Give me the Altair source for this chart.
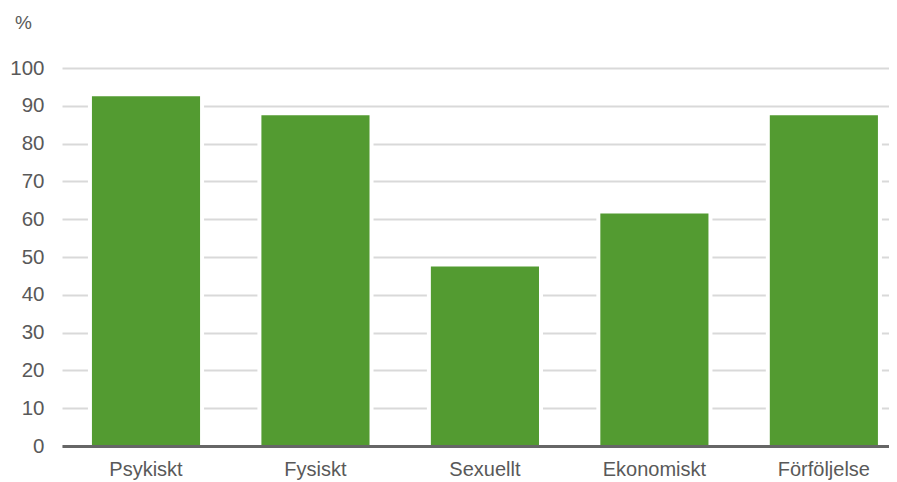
import altair as alt
import pandas as pd

categories = ["Psykiskt", "Fysiskt", "Sexuellt", "Ekonomiskt", "Förföljelse"]
values = [92.5, 87.5, 47.5, 61.5, 87.5]
y_ticks = [0, 10, 20, 30, 40, 50, 60, 70, 80, 90, 100]

df = pd.DataFrame({"cat": categories, "val": values})

FONT = "Liberation Sans"
TXT = "#595959"

xscale = alt.Scale(paddingInner=0.362, paddingOuter=0.121, align=0.73)

x_enc = alt.X(
    "cat:N",
    sort=categories,
    scale=xscale,
    axis=alt.Axis(
        title=None,
        labelAngle=0,
        labelFont=FONT,
        labelFontSize=20,
        labelColor=TXT,
        labelPadding=13,
        ticks=False,
        tickSize=0,
        domainColor="#666666",
        domainWidth=3,
        zindex=1,
        grid=False,
    ),
)

y_enc = alt.Y(
    "val:Q",
    scale=alt.Scale(domain=[0, 100], nice=False),
    axis=alt.Axis(
        values=y_ticks,
        title="%",
        titleAngle=0,
        titleX=-39,
        titleY=-46,
        titleAlign="center",
        titleBaseline="middle",
        titleFont=FONT,
        titleFontSize=19,
        titleFontWeight="normal",
        titleColor=TXT,
        labelFont=FONT,
        labelFontSize=20.5,
        labelColor=TXT,
        labelPadding=18,
        domain=False,
        ticks=False,
        tickSize=0,
        grid=True,
        gridColor="#d9d9d9",
        gridWidth=2,
        zindex=0,
    ),
)

base = alt.Chart(df)

gap = base.mark_bar(color="white", stroke="white", strokeWidth=8).encode(x=x_enc, y=y_enc)
bars = base.mark_bar(color="#539B31").encode(x=x_enc, y=y_enc)

chart = (
    alt.layer(gap, bars)
    .properties(
        width=827,
        height=378,
        autosize=alt.AutoSizeParams(type="none"),
        padding={"left": 54, "top": 60, "right": 0, "bottom": 34},
    )
    .configure_view(stroke=None)
)

chart.save("out.html", embed_options={"renderer": "svg", "actions": False})
